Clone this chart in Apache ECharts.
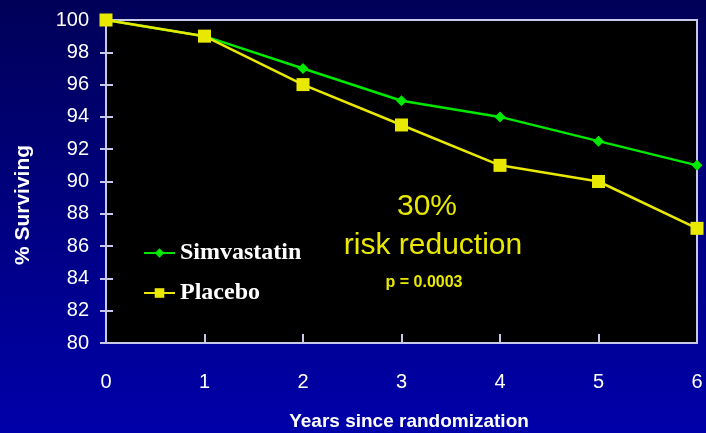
<!DOCTYPE html>
<html>
<head>
<meta charset="utf-8">
<script src="https://cdn.jsdelivr.net/npm/echarts@6/dist/echarts.min.js"></script>
<style>
  html, body { margin: 0; padding: 0; }
  #chart { width: 706px; height: 433px; }
</style>
</head>
<body>
<div id="chart"></div>
<script>
// Survival by year since randomization
const years = ['0', '1', '2', '3', '4', '5', '6'];
const simvastatin = [100, 99, 97, 95, 94, 92.5, 91];
const placebo = [100, 99, 96, 93.5, 91, 90, 87.1];
const yTicks = { min: 80, max: 100, interval: 2 };

const chart = echarts.init(document.getElementById('chart'));
const axisColor = '#c8c8e8';
const labelStyle = { color: '#ffffff', fontFamily: 'Liberation Sans, Arial', fontSize: 20 };

const yBase = {
  type: 'value', min: yTicks.min, max: yTicks.max, interval: yTicks.interval,
  splitLine: { show: false },
  axisLine: { show: true, lineStyle: { color: axisColor, width: 2 } }
};

chart.setOption({
  backgroundColor: {
    type: 'linear', x: 0, y: 0, x2: 0, y2: 1,
    colorStops: [
      { offset: 0, color: '#000058' },
      { offset: 1, color: '#0000aa' }
    ]
  },
  grid: {
    left: 106, right: 9, top: 20, bottom: 90,
    outerBoundsMode: 'none',
    show: true, backgroundColor: '#000000',
    borderColor: axisColor, borderWidth: 2
  },
  legend: {
    orient: 'vertical', left: 143, top: 241, itemGap: 16, padding: 0,
    itemWidth: 31, itemHeight: 12,
    textStyle: { color: '#ffffff', fontFamily: 'Liberation Serif', fontWeight: 'bold', fontSize: 24 },
    data: ['Simvastatin', 'Placebo']
  },
  xAxis: {
    type: 'category', data: years, boundaryGap: false,
    axisLine: { lineStyle: { color: axisColor, width: 2 } },
    axisTick: { show: true, inside: true, length: 9, lineStyle: { color: axisColor, width: 2 } },
    axisLabel: Object.assign({ margin: 29 }, labelStyle)
  },
  yAxis: [
    Object.assign({}, yBase, {
      axisTick: { show: true, length: 6, lineStyle: { color: axisColor, width: 2 } },
      axisLabel: Object.assign({ margin: 17 }, labelStyle)
    }),
    Object.assign({}, yBase, {
      position: 'left', offset: 0,
      axisTick: { show: true, inside: true, length: 7, lineStyle: { color: axisColor, width: 2 } },
      axisLabel: { show: false }
    })
  ],
  graphic: [
    { type: 'text', x: 23, y: 205, rotation: Math.PI / 2,
      style: { text: '% Surviving', fill: '#ffffff', font: 'bold 21px "Liberation Sans"', textAlign: 'center', textVerticalAlign: 'middle' } },
    { type: 'text', x: 409, y: 422,
      style: { text: 'Years since randomization', fill: '#ffffff', font: 'bold 19px "Liberation Sans"', textAlign: 'center', textVerticalAlign: 'middle' } },
    { type: 'text', x: 427, y: 207,
      style: { text: '30%', fill: '#e8e800', font: '30px "Liberation Sans"', textAlign: 'center', textVerticalAlign: 'middle' } },
    { type: 'text', x: 433, y: 246,
      style: { text: 'risk reduction', fill: '#e8e800', font: '30px "Liberation Sans"', textAlign: 'center', textVerticalAlign: 'middle' } },
    { type: 'text', x: 424, y: 283,
      style: { text: 'p = 0.0003', fill: '#e8e800', font: 'bold 16px "Liberation Sans"', textAlign: 'center', textVerticalAlign: 'middle' } }
  ],
  series: [
    {
      name: 'Simvastatin', type: 'line', data: simvastatin,
      symbol: 'diamond', symbolSize: 11,
      lineStyle: { color: '#00e800', width: 2.5 },
      itemStyle: { color: '#00e800' }, z: 2
    },
    {
      name: 'Placebo', type: 'line', data: placebo,
      symbol: 'rect', symbolSize: 13,
      lineStyle: { color: '#e8e800', width: 2.5 },
      itemStyle: { color: '#e8e800' }, z: 3
    }
  ]
});
</script>
</body>
</html>
